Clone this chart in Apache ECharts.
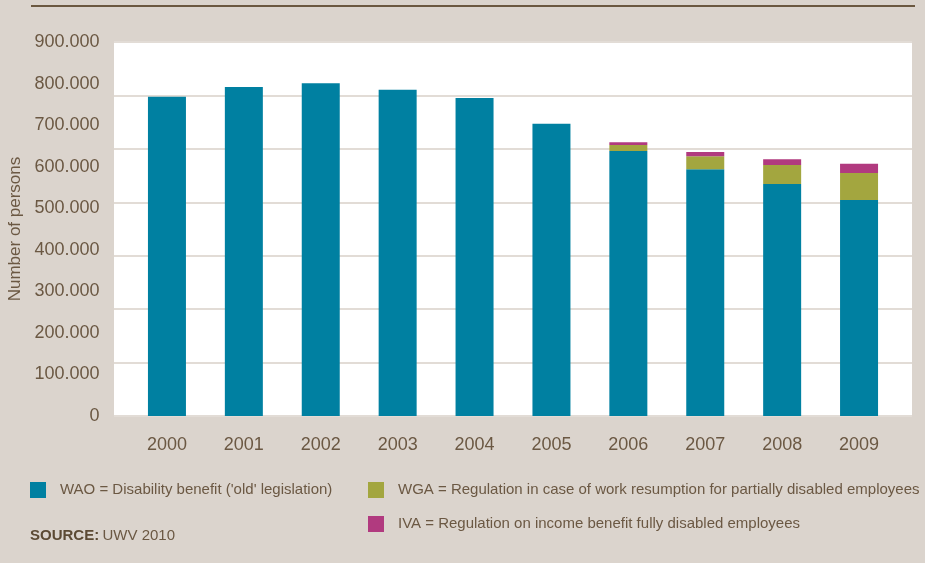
<!DOCTYPE html>
<html>
<head>
<meta charset="utf-8">
<title>Disability benefit recipients 2000-2009</title>
<script src="https://cdn.jsdelivr.net/npm/echarts@6/dist/echarts.min.js"></script>
<style>
  html, body { margin: 0; padding: 0; background: #dbd4cd; }
  #chart { width: 925px; height: 563px; }
</style>
</head>
<body>
<div id="chart"></div>
<script>
// Years on the category axis
const years = ['2000', '2001', '2002', '2003', '2004', '2005', '2006', '2007', '2008', '2009'];

// Recipients per scheme (persons)
const wao = [768000, 792000, 801000, 785000, 765000, 703000, 638000, 594000, 558000, 520000];
const wga = [null, null, null, null, null, null, 14000, 31000, 46000, 65000];
const iva = [null, null, null, null, null, null, 7000, 10000, 14000, 22000];

// Value axis tick settings
const yMax = 900000;
const yStep = 100000;

// Scheme names shown in the legend
const names = {
  wao: "WAO = Disability benefit ('old' legislation)",
  wga: 'WGA = Regulation in case of work resumption for partially disabled employees',
  iva: 'IVA = Regulation on income benefit fully disabled employees'
};

const brown = '#6b5843';
const axisFont = 'Liberation Sans, Arial, sans-serif';

function dotThousands(v) {
  return String(v).replace(/\B(?=(\d{3})+(?!\d))/g, '.');
}

const chart = echarts.init(document.getElementById('chart'), null, { renderer: 'canvas' });

function legendBlock(name, left, top) {
  return {
    data: [name],
    left: left,
    top: top,
    orient: 'horizontal',
    padding: 0,
    icon: 'rect',
    itemWidth: 16,
    itemHeight: 16,
    selectedMode: false,
    textStyle: {
      color: brown,
      fontFamily: axisFont,
      fontSize: 15,
      padding: [0, 0, 0, 9]
    }
  };
}

chart.setOption({
  backgroundColor: '#dbd4cd',
  animation: false,
  grid: [
    { left: 128.5, right: 27.5, top: 42, bottom: 147, containLabel: false, outerBoundsMode: 'none' },
    { left: 114, right: 13, top: 42, bottom: 147, show: true, backgroundColor: '#ffffff', borderWidth: 0, z: 0, outerBoundsMode: 'none' }
  ],
  xAxis: [
    {
      type: 'category',
      gridIndex: 0,
      data: years,
      axisLine: { show: false },
      axisTick: { show: false },
      axisLabel: { color: brown, fontFamily: axisFont, fontSize: 18, margin: 20 }
    },
    { type: 'value', gridIndex: 1, show: false }
  ],
  yAxis: [
    {
      type: 'value',
      gridIndex: 0,
      min: 0,
      max: yMax,
      interval: yStep,
      name: 'Number of persons',
      nameLocation: 'middle',
      nameRotate: 90,
      nameGap: 104,
      nameTextStyle: { color: brown, fontFamily: axisFont, fontSize: 17 },
      axisLine: { show: false },
      axisTick: { show: false },
      splitLine: { show: false },
      axisLabel: {
        color: brown,
        fontFamily: axisFont,
        fontSize: 18,
        margin: 29,
        formatter: dotThousands
      }
    },
    {
      // background rules of the plot panel
      type: 'value',
      gridIndex: 1,
      min: 0,
      max: 7,
      interval: 1,
      axisLine: { show: false },
      axisTick: { show: false },
      axisLabel: { show: false },
      splitLine: { show: true, lineStyle: { color: '#e2dcd6', width: 2 } }
    }
  ],
  legend: [
    legendBlock(names.wao, 30, 482),
    legendBlock(names.wga, 368, 482),
    legendBlock(names.iva, 368, 516)
  ],
  graphic: [
    {
      type: 'line',
      shape: { x1: 31, y1: 6, x2: 915, y2: 6 },
      style: { stroke: '#6b5840', lineWidth: 2 }
    },
    {
      type: 'text',
      left: 30,
      top: 528,
      style: {
        text: '{b|SOURCE:} {r|UWV 2010}',
        rich: {
          b: { fontFamily: axisFont, fontWeight: 'bold', fontSize: 15, fill: '#5c4a33' },
          r: { fontFamily: axisFont, fontSize: 15, fill: brown }
        }
      }
    }
  ],
  series: [
    {
      name: names.wao,
      type: 'bar',
      stack: 'total',
      xAxisIndex: 0,
      yAxisIndex: 0,
      barWidth: 38,
      data: wao,
      itemStyle: { color: '#0080a1' },
      z: 3
    },
    {
      name: names.wga,
      type: 'bar',
      stack: 'total',
      xAxisIndex: 0,
      yAxisIndex: 0,
      barWidth: 38,
      data: wga,
      itemStyle: { color: '#a3a63f' },
      z: 3
    },
    {
      name: names.iva,
      type: 'bar',
      stack: 'total',
      xAxisIndex: 0,
      yAxisIndex: 0,
      barWidth: 38,
      data: iva,
      itemStyle: { color: '#b13a7f' },
      z: 3
    }
  ]
});
</script>
</body>
</html>
